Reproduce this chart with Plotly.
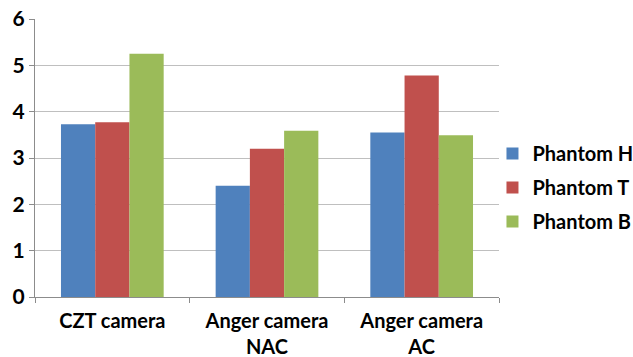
import plotly.graph_objects as go

categories = ["CZT camera", "Anger camera<br>NAC", "Anger camera<br>AC"]
phantom_h = [3.73, 2.40, 3.55]
phantom_t = [3.77, 3.20, 4.78]
phantom_b = [5.25, 3.59, 3.49]
series_names = ["Phantom H", "Phantom T", "Phantom B"]
series_colors = ["#4F81BD", "#C0504D", "#9BBB59"]

fig = go.Figure()
for name, vals, col in zip(series_names, [phantom_h, phantom_t, phantom_b], series_colors):
    fig.add_trace(go.Bar(x=categories, y=vals, name=name, marker_color=col,
                         marker_line_width=0, legendgroup=name))

font_family = "Lato, 'Open Sans', sans-serif"
fig.update_layout(
    width=633, height=357,
    margin=dict(l=35, r=134, t=19, b=60, autoexpand=False),
    paper_bgcolor="white", plot_bgcolor="white",
    barmode="group", bargap=0.336, bargroupgap=0,
    font=dict(family=font_family, size=18, color="black"),
    showlegend=True,
    legend=dict(xref="container", yref="container", x=0.778, y=0.625,
                xanchor="left", yanchor="top", traceorder="grouped",
                font=dict(family=font_family, size=20, color="black", weight="bold"),
                itemwidth=30, tracegroupgap=5, bgcolor="rgba(0,0,0,0)"),
)
fig.update_xaxes(
    showline=True, linecolor="#8c8c8c", linewidth=1,
    ticks="outside", tickson="boundaries", ticklen=5, tickcolor="#8c8c8c",
    tickfont=dict(family=font_family, size=20, color="black", weight="bold"),
    ticklabelstandoff=6, showgrid=False,
)
fig.update_yaxes(
    range=[0, 6], dtick=1, showline=True, linecolor="#8c8c8c", linewidth=1,
    ticks="outside", ticklen=5, tickcolor="#8c8c8c",
    showgrid=True, gridcolor="#bfbfbf", gridwidth=1, zeroline=False,
    tickfont=dict(family=font_family, size=21, color="black", weight="bold"),
)

fig.write_html("out.html")
